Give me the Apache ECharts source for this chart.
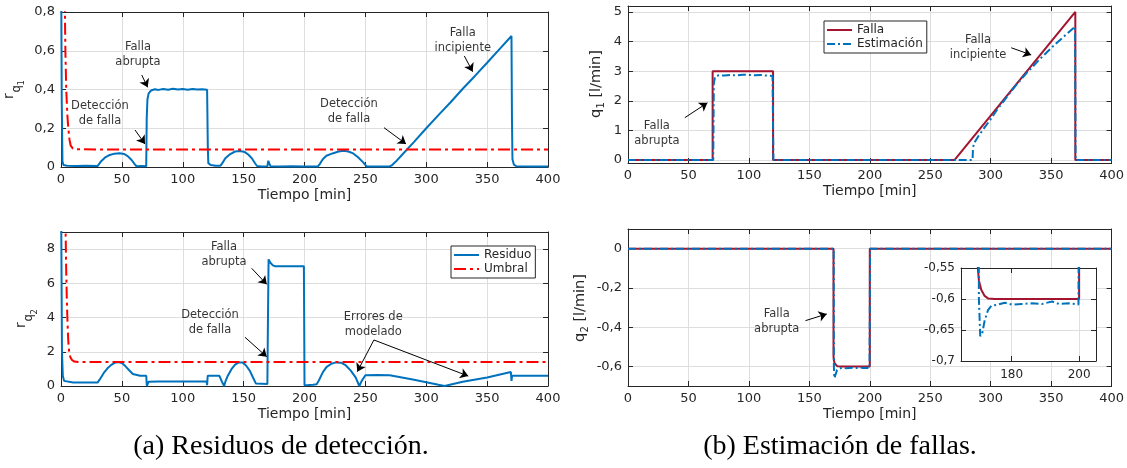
<!DOCTYPE html>
<html>
<head>
<meta charset="utf-8">
<title>Residuos y estimación de fallas</title>
<script src="https://cdn.jsdelivr.net/npm/echarts@6.0.0/dist/echarts.min.js"></script>
<style>
  html, body { margin: 0; padding: 0; background: #fff; }
  #chart { width: 1127px; height: 468px; }
</style>
</head>
<body>
<div id="chart"></div>
<script>
// (a) residuo r_q1 y su umbral  [tiempo, valor]
var rq1 = [[0,1.2],[0.6,0.35],[1.2,0.03],[2,0.01],[5,0.006],[12,0.005],[20,0.006],[30,0.005],[31,0.012],[33,0.03],[36,0.048],[40,0.062],[44,0.069],[48,0.071],[52,0.067],[55,0.055],[58,0.036],[60.5,0.015],[62,0.004],[66,0.005],[70,0.004],[70.4,0.25],[71,0.35],[72,0.38],[74,0.395],[77,0.401],[80,0.398],[84,0.403],[88,0.399],[92,0.404],[96,0.4],[100,0.402],[104,0.399],[108,0.403],[112,0.4],[116,0.401],[120,0.399],[120.6,0.1],[121,0.02],[123,0.01],[127,0.006],[131,0.007],[132.5,0.02],[135,0.045],[139,0.067],[143,0.08],[147,0.083],[151,0.077],[154,0.063],[157,0.043],[159.5,0.018],[161,0.005],[165,0.003],[169.5,0.004],[170.3,0.032],[171,0.02],[172,0.004],[180,0.003],[190,0.004],[200,0.002],[211,0.003],[212.5,0.015],[215,0.04],[218,0.058],[223,0.07],[228,0.08],[232,0.084],[236,0.08],[240,0.07],[244,0.05],[248,0.025],[251,0.003],[260,0.002],[270,0.003],[272,0.01],[275,0.028],[280,0.062],[290,0.13],[300,0.2],[310,0.268],[320,0.334],[330,0.404],[340,0.47],[350,0.538],[360,0.607],[370,0.676],[370.4,0.25],[370.8,0.04],[372,0.012],[374,0.004],[385,0.003],[400,0.002]];
var umb1 = [[0,3],[3,0.9],[3.6,0.6],[4.3,0.4],[5.2,0.27],[6,0.2],[7,0.14],[8,0.11],[9.5,0.097],[12,0.091],[400,0.09]];

// (a) residuo r_q2 y su umbral
var rq2 = [[0,12],[0.8,2],[1.5,0.6],[2,0.45],[2.5,0.3],[3.5,0.22],[10,0.2],[20,0.2],[30,0.2],[32,0.4],[35,0.75],[38,1.02],[41,1.22],[44,1.35],[47,1.4],[50,1.34],[53,1.15],[56,0.92],[59,0.7],[60.5,0.6],[65,0.6],[70,0.6],[70.5,0.0],[71,0.02],[72,0.25],[80,0.26],[90,0.26],[100,0.27],[110,0.27],[119.5,0.28],[120,0.05],[120.5,0.6],[125,0.6],[130,0.6],[131,0.45],[132.5,0.2],[134,0.0],[135,0.25],[137,0.6],[140,0.98],[143,1.25],[146,1.38],[149,1.38],[152,1.2],[155,0.9],[158,0.45],[160,0.15],[161,0.12],[169.5,0.12],[170,4],[170.5,7.4],[171,7.5],[172,7.2],[174,7.05],[176,7.0],[185,7.0],[199.5,7.0],[200,0.05],[201,0.0],[203,0.06],[207,0.08],[210,0.1],[212,0.35],[215,0.8],[218,1.1],[222,1.3],[226,1.38],[230,1.36],[234,1.2],[238,0.9],[242,0.5],[245,0.0],[247,0.3],[250,0.63],[260,0.64],[270,0.63],[280,0.5],[290,0.36],[300,0.22],[310,0.07],[315,0.0],[330,0.25],[350,0.5],[369.5,0.82],[370,0.3],[370.5,0.6],[380,0.6],[400,0.6]];
var umb2 = [[0,30],[3.6,10],[4.2,7],[4.8,5],[5.4,3.6],[6,2.6],[6.7,2],[7.6,1.7],[9,1.52],[11,1.43],[14,1.4],[400,1.4]];

// (b) falla y estimación de q1
var fq1 = [[0,0],[70,0],[70,3],[120,3],[120,0],[270,0],[370,5],[370,0],[400,0]];
var eq1 = [[0,0],[70.5,0],[71,2.6],[72,2.82],[75,2.86],[80,2.85],[85,2.87],[90,2.86],[95,2.88],[100,2.87],[105,2.86],[110,2.87],[115,2.85],[119.5,2.84],[120.3,0],[285,0],[285.3,0.35],[286,0.55],[290,0.82],[295,1.1],[300,1.38],[305,1.68],[310,1.95],[315,2.22],[320,2.48],[325,2.72],[330,2.95],[335,3.16],[340,3.38],[345,3.58],[350,3.78],[355,3.97],[360,4.15],[365,4.33],[369.8,4.5],[370.2,0],[400,0]];

// (b) falla y estimación de q2
var fq2 = [[0,0],[170,0],[170,-0.55],[170.3,-0.57],[171,-0.585],[172,-0.595],[173,-0.599],[175,-0.6],[200,-0.6],[200,0],[400,0]];
var eq2 = [[0,0],[170.1,0],[170.3,-0.6],[170.7,-0.66],[171.3,-0.655],[172,-0.635],[173,-0.618],[174,-0.611],[176,-0.609],[178,-0.606],[180,-0.609],[183,-0.608],[186,-0.607],[189,-0.608],[192,-0.604],[194,-0.608],[197,-0.607],[199.8,-0.609],[200.2,0],[400,0]];

// ticks
var yTicksQ1 = [0, 1, 2, 3, 4, 5];
var yTicksQ2 = [-0.6, -0.4, -0.2, 0];
var xTicksInset = [180, 200];

// anotaciones: texto [t, v, texto], flechas [[desde], [hasta]]
var txtA1 = [[63.2,0.583,'Falla\nabrupta'],[32,0.274,'Detección\nde falla'],[236.5,0.284,'Detección\nde falla'],[330,0.655,'Falla\nincipiente']];
var arrA1 = [[[66.3,0.475],[71.2,0.411]],[[60.8,0.191],[69,0.119]],[[265.3,0.203],[283.4,0.119]],[[331.3,0.573],[338.1,0.492]]];
var txtA2 = [[133.9,7.71,'Falla\nabrupta'],[122.4,3.71,'Detección\nde falla'],[256.5,3.59,'Errores de\nmodelado']];
var arrA2 = [[[156.6,6.88],[169,5.94]],[[151.1,2.85],[169,1.71]],[[257,2.69],[243.4,0.84]],[[257,2.69],[334.5,0.58]]];
var txtB1 = [[23.9,0.88,'Falla\nabrupta'],[289.5,3.80,'Falla\nincipiente']];
var arrB1 = [[[47,1.43],[65.7,1.93]],[[317,3.79],[333.5,3.55]]];
var txtB2 = [[123,-0.37,'Falla\nabrupta']];
var arrB2 = [[[146.8,-0.367],[164.4,-0.333]]];

var FONT = 'DejaVu Sans';
var AX = '#262626';
var GRID = '#dedede';
var BLUE = '#0072BD', RED = '#FF0000', WINE = '#A2142F';

function fmt(v) { return String(+v.toFixed(2)).replace('.', ','); }

// eje principal + eje espejo (caja con marcas en los cuatro lados)
function axes(dim, gi, o) {
  var tick = { show: true, inside: true, length: 5, lineStyle: { color: AX, width: 1 } };
  var main = {
    type: 'value', gridIndex: gi, min: o.min, max: o.max,
    position: dim === 'x' ? 'bottom' : 'left',
    axisLine: { show: true, onZero: false, lineStyle: { color: AX, width: 1 } },
    axisTick: Object.assign({}, tick),
    axisLabel: { color: AX, fontFamily: FONT, fontSize: o.fs || 13, margin: o.margin || 6, formatter: fmt, showMaxLabel: o.showMax !== false, showMinLabel: true },
    splitLine: { show: true, lineStyle: { color: GRID, width: 1 } },
    z: o.z || 0
  };
  if (o.interval != null) main.interval = o.interval;
  if (o.custom) {
    main.axisTick.customValues = o.custom;
    main.axisLabel.customValues = o.custom;
    main.splitLine.customValues = o.custom;
  }
  if (o.name) {
    main.name = o.name; main.nameLocation = 'middle'; main.nameGap = o.nameGap;
    main.nameTextStyle = { color: AX, fontFamily: FONT, fontSize: 14 };
  }
  var mirror = {
    type: 'value', gridIndex: gi, min: o.min, max: o.max,
    position: dim === 'x' ? 'top' : 'right',
    axisLine: { show: true, onZero: false, lineStyle: { color: AX, width: 1 } },
    axisTick: Object.assign({}, tick),
    axisLabel: { show: false },
    splitLine: { show: false },
    z: o.z || 0
  };
  if (o.interval != null) mirror.interval = o.interval;
  if (o.custom) mirror.axisTick.customValues = o.custom;
  return [main, mirror];
}

var xAxis = [].concat(
  axes('x', 0, { min: 0, max: 400, interval: 50, name: 'Tiempo [min]', nameGap: 21 }),
  axes('x', 1, { min: 0, max: 400, interval: 50, name: 'Tiempo [min]', nameGap: 21 }),
  axes('x', 2, { min: 0, max: 400, interval: 50, name: 'Tiempo [min]', nameGap: 21 }),
  axes('x', 3, { min: 0, max: 400, interval: 50, name: 'Tiempo [min]', nameGap: 21 }),
  axes('x', 4, { min: 165, max: 205, custom: xTicksInset, fs: 12, margin: 8, z: 3 })
);
var yAxis = [].concat(
  axes('y', 0, { min: 0, max: 0.8, interval: 0.2 }),
  axes('y', 1, { min: 0, max: 9, interval: 2, showMax: false }),
  axes('y', 2, { min: -0.1, max: 5.2, custom: yTicksQ1 }),
  axes('y', 3, { min: -0.7, max: 0.1, custom: yTicksQ2 }),
  axes('y', 4, { min: -0.7, max: -0.55, interval: 0.05, fs: 12, z: 3 })
);

function line(name, gi, data, color, dash, z) {
  return {
    name: name, type: 'line', xAxisIndex: gi * 2, yAxisIndex: gi * 2, data: data,
    showSymbol: false, symbol: 'none', clip: true, silent: true, z: z || 2,
    lineStyle: { color: color, width: 2, type: dash || 'solid' },
    itemStyle: { color: color }
  };
}
function notes(gi, txt, arr) {
  return {
    type: 'scatter', xAxisIndex: gi * 2, yAxisIndex: gi * 2, data: txt,
    symbolSize: 0, silent: true, z: 5,
    label: { show: true, position: 'inside', formatter: function (p) { return p.data[2]; },
      color: '#000', fontFamily: FONT, fontSize: 11.5, lineHeight: 15, align: 'center' },
    markLine: {
      silent: true, symbol: ['none', 'arrow'], symbolSize: 8, animation: false,
      label: { show: false }, emphasis: { disabled: true },
      lineStyle: { color: '#000', width: 1, type: 'solid' },
      data: arr.map(function (a) { return [{ coord: a[0] }, { coord: a[1] }]; })
    }
  };
}

var dashU = [12, 4, 3, 4];
var dashE = [8, 3, 2, 3];

var series = [
  line('Residuo', 0, rq1, BLUE),
  line('Umbral', 0, umb1, RED, dashU),
  line('Residuo', 1, rq2, BLUE),
  line('Umbral', 1, umb2, RED, dashU),
  line('Falla', 2, fq1, WINE),
  line('Estimación', 2, eq1, BLUE, dashE),
  line('Falla', 3, fq2, WINE),
  line('Estimación', 3, eq2, BLUE, dashE),
  line('Falla', 4, fq2, WINE, null, 4),
  line('Estimación', 4, eq2, BLUE, dashE, 4),
  notes(0, txtA1, arrA1),
  notes(1, txtA2, arrA2),
  notes(2, txtB1, arrB1),
  notes(3, txtB2, arrB2)
];

var legendBase = {
  orient: 'vertical', itemWidth: 25, itemHeight: 14, itemGap: 2,
  padding: [3, 4, 3, 2], borderColor: AX, borderWidth: 1, borderRadius: 0,
  backgroundColor: '#fff', selectedMode: false,
  itemStyle: { opacity: 0 },
  textStyle: { color: AX, fontFamily: FONT, fontSize: 12 }
};

function sub(x, y, parts) {
  return {
    type: 'group', x: x, y: y, rotation: Math.PI / 2, silent: true,
    children: parts.map(function (p) {
      return { type: 'text', x: p[1], y: p[2], style: { text: p[0], fill: AX, font: p[3] + 'px "DejaVu Sans"', textAlign: 'left', textVerticalAlign: 'middle' } };
    })
  };
}

var chart = echarts.init(document.getElementById('chart'), null, { renderer: 'canvas' });
chart.setOption({
  animation: false,
  backgroundColor: '#fff',
  grid: [
    { left: 61, top: 12, width: 487, height: 155 },
    { left: 61, top: 232, width: 487, height: 154 },
    { left: 628, top: 6, width: 485, height: 157 },
    { left: 628, top: 229, width: 485, height: 157 },
    { left: 961, top: 268, width: 135, height: 93, show: true, backgroundColor: '#fff', borderWidth: 0, z: 1 }
  ],
  xAxis: xAxis,
  yAxis: yAxis,
  legend: [
    Object.assign({}, legendBase, { data: ['Residuo', 'Umbral'], left: 451, top: 246 }),
    Object.assign({}, legendBase, { data: ['Falla', 'Estimación'], left: 824, top: 21 })
  ],
  series: series,
  graphic: [
    sub(9, 99, [['r', 0, 0, 14], ['q', 6.5, 8, 11.5], ['1', 13.5, 13, 8.5]]),
    sub(21.5, 328, [['r', 0, 0, 14], ['q', 6.5, 8, 11.5], ['2', 13.5, 13, 8.5]]),
    sub(596, 118, [['q', 0, 0, 14.5], ['1', 9.4, 5.5, 10], ['[l/min]', 20.4, 0, 14.5]]),
    sub(580, 342, [['q', 0, 0, 14.5], ['2', 9.4, 5.5, 10], ['[l/min]', 20.4, 0, 14.5]]),
    { type: 'text', x: 281, y: 447, silent: true, style: { text: '(a) Residuos de detección.', fill: '#000', font: '28px "Liberation Serif"', textAlign: 'center', textVerticalAlign: 'middle' } },
    { type: 'text', x: 840, y: 447, silent: true, style: { text: '(b) Estimación de fallas.', fill: '#000', font: '28px "Liberation Serif"', textAlign: 'center', textVerticalAlign: 'middle' } }
  ]
});
</script>
</body>
</html>
